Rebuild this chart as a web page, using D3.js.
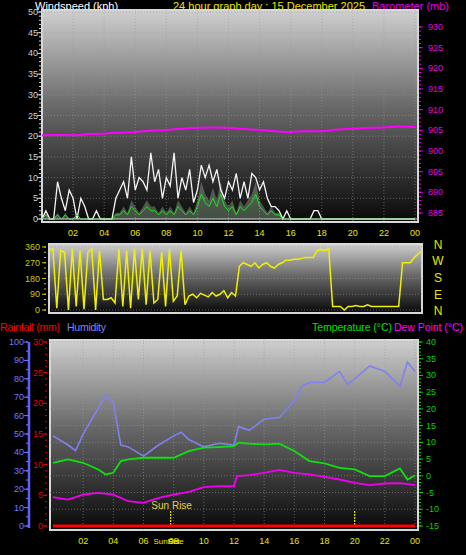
<!DOCTYPE html>
<html><head><meta charset="utf-8">
<script src="https://cdn.jsdelivr.net/npm/d3@7"></script>
<style>body{margin:0;background:#000}svg{display:block;font-family:"Liberation Sans",Arial,sans-serif}</style>
</head><body><svg id="c" width="466" height="555"></svg>
<script>
// ---- data ----
const hourTicks=[2,4,6,8,10,12,14,16,18,20,22,24];
const hourLabels=["02","04","06","08","10","12","14","16","18","20","22","00"];
// wind (kph) every 15 min
const gust=[0,2,0,0, 9,5,2,7, 5,0,5,3, 0,0,2,0, 0,0,0,5, 7,9,5,15, 7,10,9,7, 16,9,12,5, 10,8,16,5, 10,7,12,4, 7,13,10,13, 9,12,7,5, 9,7,11,5, 9,5,11,10, 7,9,5,3, 3,2,0,2, 0,0,0,0, 0,0,2,2, 0,0,0,0, 0,0,0,0, 0,0,0,0, 0,0,0,0, 0,0,0,0, 0,0,0,0,0];
const avgWind=[0,1,0,0, 1,0,1,0, 0,1,0,0, 0,0,0,0, 0,0,0,1, 1,2,1,3, 2,1,2,3, 2,2,1,2, 1,2,1,3, 2,1,2,1, 3,6,4,3, 5,3,6,3, 2,3,1,3, 2,3,4,6, 3,2,1,2, 1,1,0,0, 0,0,0,0, 0,0,0,0, 0,0,0,0, 0,0,0,0, 0,0,0,0, 0,0,0,0, 0,0,0,0, 0,0,0,0,0];
const baro=[903.8,903.9,903.8,904.1,904.2,904.4,904.6,904.9,905.1,905.4,905.6,905.7,905.6,905.3,905.1,904.8,904.6,904.8,904.8,905.2,905.4,905.6,905.7,905.9,905.8];
const windDir=[340,350,10,340, 330,0,350,20, 340,5,330,350, 0,340,60,60, 70,40,350,20, 340,10,350,60, 350,30,340,40, 60,330,20,350, 50,80,340,30, 80,90,70,95, 85,75,100,80, 90,110,70,100, 80,250,270,260, 250,270,240,260, 270,250,240,260, 270,285,285,290, 290,295,300,300, 300,340,345,340, 350,20,20,20, 0,20,20,25, 20,20,30,20, 20,20,20,20, 20,20,20,270, 270,270,300,320,340];
const thHours=[0,1,1.5,2,2.5,3,3.5,4,4.5,5,6,7,8,8.5,9,10,11,12,12.3,13,14,15,16,16.5,17,18,19,19.5,20,21,22,23,23.5,24];
const humidity=[49,44,41,50,57,64,71,67,44,43,38,44,49,51,47,43,45,44,54,52,58,59,68,76,78,78,84,77,80,87,84,76,89,84];
const tHours=[0,1,2,3,3.5,4,4.5,5,6,7,8,9,10,11,12,12.3,13,14,15,16,17,18,19,20,21,22,23,23.5,24];
const temperature=[3.9,4.9,3.9,1.9,0.4,0.9,4.4,4.9,5.4,5.4,5.4,7.4,8.4,8.6,8.9,9.9,9.6,9.4,9.6,7.4,4.4,3.7,2.4,1.9,-0.1,-0.1,2.2,-1.1,0.1];
const dHours=[0,1,2,3,4,5,6,7,8,9,10,11,12,12.2,13,14,15,16,17,18,19,20,21,22,23,24];
const dewPoint=[-6.4,-7.1,-5.6,-5.1,-5.6,-7.6,-8.1,-6.6,-5.6,-4.8,-3.4,-3.1,-3.1,-0.1,0.2,0.9,1.8,0.9,0.4,-0.3,-1.1,-2.1,-2.8,-2.3,-2.2,-2.8];
const rainfall=[0,0];
const sunRise=7.8, sunSet=20.0;

const svg=d3.select("#c");
const defs=svg.append("defs");
const g=defs.append("linearGradient").attr("id","bg").attr("x1",0).attr("y1",0).attr("x2",0).attr("y2",1);
g.append("stop").attr("offset","0%").attr("stop-color","#cfcfcf");
g.append("stop").attr("offset","45%").attr("stop-color","#6a6a6a");
g.append("stop").attr("offset","100%").attr("stop-color","#080808");

function panel(x0,x1,y0,y1){
  svg.append("rect").attr("x",x0).attr("y",y0).attr("width",x1-x0).attr("height",y1-y0).attr("fill","url(#bg)").attr("stroke","#d8d8d8").attr("stroke-width",2);
}
function grid(xs,ys,x0,x1,y0,y1){
  const gg=svg.append("g").attr("stroke","#9a9a9a").attr("stroke-opacity",0.55).attr("stroke-dasharray","1,2");
  xs.forEach(x=>gg.append("line").attr("x1",x).attr("x2",x).attr("y1",y0).attr("y2",y1));
  ys.forEach(y=>gg.append("line").attr("y1",y).attr("y2",y).attr("x1",x0).attr("x2",x1));
}
function txt(x,y,s,col,size,anchor){
  return svg.append("text").attr("x",x).attr("y",y).text(s).attr("fill",col).attr("font-size",size||9).attr("text-anchor",anchor||"start");
}
function yaxis(scale,vals,x,col,side,labelX,minorStep,anchor){
  const [a,b]=scale.domain();
  for(let v=Math.min(a,b);v<=Math.max(a,b)+1e-9;v+=minorStep){
    svg.append("line").attr("x1",x).attr("x2",x+(side*2)).attr("y1",scale(v)).attr("y2",scale(v)).attr("stroke",col);
  }
  vals.forEach(v=>{
    svg.append("line").attr("x1",x).attr("x2",x+side*4).attr("y1",scale(v)).attr("y2",scale(v)).attr("stroke",col);
    txt(labelX,scale(v)+3,v,col,9,anchor||(side<0?"end":"start"));
  });
}
const yellow="#e6e600";

// ---- top panel ----
txt(35,10,"Windspeed (kph)","#ffffff",11);
txt(173,10,"24 hour graph day : 15 December 2025",yellow,11);
txt(372,10,"Barometer (mb)","#e000e0",11);
const xT=d3.scaleLinear().domain([0,24]).range([42,415]);
const yW=d3.scaleLinear().domain([0,50]).range([219,12]);
const yB=d3.scaleLinear().domain([885,930]).range([213,27]);
panel(42,418,10,222);
grid(hourTicks.map(xT),d3.range(0,51,5).map(yW),42,418,10,222);
yaxis(yW,d3.range(0,51,5),41,"#d0d0d0",-1,38,1);
yaxis(yB,d3.range(885,931,5),419,"#e000e0",1,428,1);
hourTicks.forEach((h,i)=>txt(xT(h),236,hourLabels[i],yellow,9,"middle"));
const q=i=>i/4;
svg.append("path").datum(avgWind).attr("d",d3.area().x((d,i)=>xT(q(i))).y0(yW(0)).y1(d=>yW(d*1.5))).attr("fill","#c8f0c8").attr("fill-opacity",0.3);
svg.append("path").datum(gust).attr("d",d3.line().x((d,i)=>xT(q(i))).y(d=>yW(d))).attr("fill","none").attr("stroke","#f4f4f4").attr("stroke-width",1.3);
svg.append("path").datum(avgWind).attr("d",d3.line().x((d,i)=>xT(q(i))).y(d=>yW(d))).attr("fill","none").attr("stroke","#20e020").attr("stroke-width",1);
svg.append("line").attr("x1",xT(0)).attr("x2",418).attr("y1",yW(0)).attr("y2",yW(0)).attr("stroke","#d0d0d0");
svg.append("path").datum(baro).attr("d",d3.line().x((d,i)=>xT(i)).y(d=>yB(d)).curve(d3.curveMonotoneX)).attr("fill","none").attr("stroke","#ff00ff").attr("stroke-width",2);

// ---- wind direction ----
const xD=d3.scaleLinear().domain([0,24]).range([49,422]);
const yD=d3.scaleLinear().domain([0,360]).range([310,247]);
panel(49,422,244,313);
grid([],[0,90,180,270,360].map(yD),49,422,244,313);
yaxis(yD,[0,90,180,270,360],46,"#c8c800",-1,40,30);
["N","W","S","E","N"].forEach((c,i)=>txt(438,[249,265,282,299,315][i],c,yellow,12,"middle"));
svg.append("path").datum(windDir).attr("d",d3.line().x((d,i)=>xD(q(i))).y(d=>yD(d))).attr("fill","none").attr("stroke","#f0f000").attr("stroke-width",1.5);

// ---- bottom panel ----
txt(0,331,"Rainfall (mm)","#ff0000",10.5).attr("textLength",60);
txt(67,331,"Humidity","#8080ff",10.5).attr("textLength",39);
txt(312,331,"Temperature (°C)","#00e000",10.5).attr("textLength",80);
txt(394,331,"Dew Point (°C)","#ff00ff",10.5).attr("textLength",69);
const xB=d3.scaleLinear().domain([0,24]).range([53,415]);
const yH=d3.scaleLinear().domain([0,100]).range([526,342]);
const yR=d3.scaleLinear().domain([0,30]).range([526,342]);
const yTmp=d3.scaleLinear().domain([-15,40]).range([526,342]);
panel(50,418,340,530);
grid(hourTicks.map(xB),d3.range(-15,41,5).map(yTmp),50,418,340,530);
svg.append("line").attr("x1",29).attr("x2",29).attr("y1",342).attr("y2",528).attr("stroke","#6060ff").attr("stroke-width",2.5);
yaxis(yH,d3.range(0,101,10),28,"#7878ff",-1,24,5,"end");
yaxis(yR,[0,5,10,15,20,25,30],47,"#e00000",-1,43,1);
yaxis(yTmp,d3.range(-15,41,5),419,"#00d000",1,426,1);
hourTicks.forEach((h,i)=>txt(xB(h),544,hourLabels[i],yellow,9,"middle"));
[sunRise,sunSet].forEach(h=>svg.append("line").attr("x1",xB(h)).attr("x2",xB(h)).attr("y1",511).attr("y2",526).attr("stroke",yellow).attr("stroke-dasharray","2,1").attr("stroke-width",1.2));
txt(xB(sunRise)+1,509,"Sun Rise","#e0d040",10,"middle");
txt(xB(sunRise)-2,544,"SunRise","#e6e600",8,"middle");
txt(xB(sunRise)+3,544,"Set","#e6e600",8,"middle");
const ln=(xs,ys,col,w)=>svg.append("path").datum(ys).attr("d",d3.line().x((d,i)=>xB(xs[i])).y(d=>d)).attr("fill","none").attr("stroke",col).attr("stroke-width",w);
ln(thHours,humidity.map(yH),"#8080f0",1.6);
ln(tHours,temperature.map(yTmp),"#10e010",1.8);
ln(dHours,dewPoint.map(yTmp),"#f000f0",1.8);
ln([0,24],rainfall.map(yR),"#ff0000",3);
</script></body></html>
